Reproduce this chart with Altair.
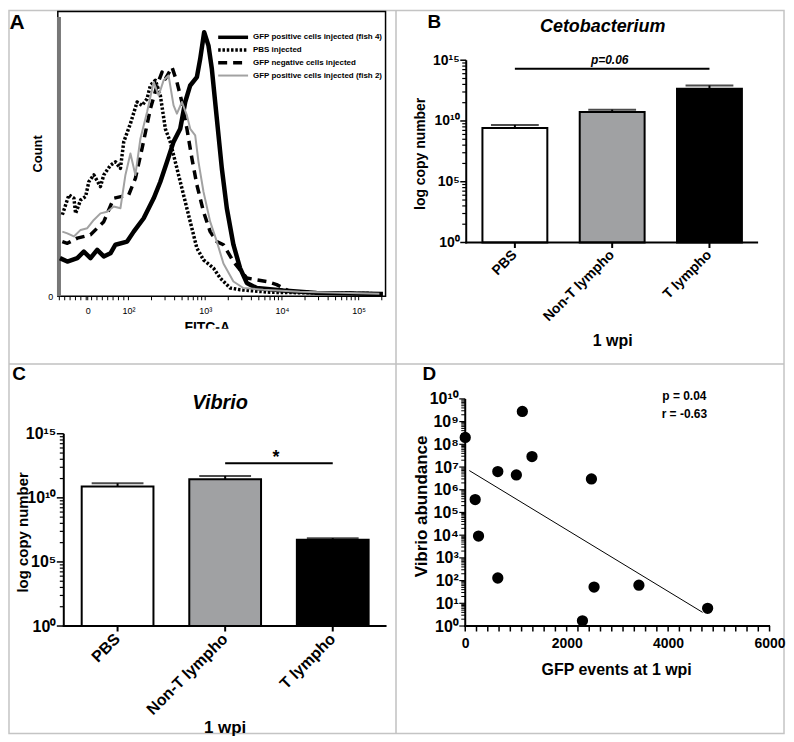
import json
import math
import pandas as pd
import altair as alt

OX, OY = 8, 8                  # page margin
W, H = 794 - 16, 742 - 16      # whole figure = one plot area

def px(x):
    return x - OX

def py(y):
    return y - OY

FONT = "Liberation Sans"

# ---------------- Panel A: FITC-A histograms ----------------
# x: position on the FITC-A display axis in decade units (2 = 10^2, 3 = 10^3 ...)
# y: count, % of the tallest peak
a_black_x = [1.108, 1.204, 1.334, 1.419, 1.506, 1.593, 1.679, 1.766, 1.831, 1.983, 2.069, 2.199, 2.329,
             2.416, 2.503, 2.588, 2.675, 2.740, 2.805, 2.892, 2.935, 2.987, 3.043, 3.087, 3.152, 3.217,
             3.282, 3.368, 3.455, 3.542, 3.671, 4.017, 4.451, 5.316]
a_black_y = [13.4, 12.2, 13.4, 15.7, 13.4, 16.3, 14.0, 15.1, 18.1, 19.2, 22.7, 27.4, 34.4, 40.2, 47.2,
             54.2, 58.8, 68.2, 74.0, 76.9, 83.3, 92.7, 88.0, 79.8, 62.3, 44.9, 30.9, 18.1, 9.9, 4.7,
             2.9, 2.0, 1.2, 0.8]
a_pbs_x = [1.139, 1.225, 1.290, 1.312, 1.377, 1.442, 1.484, 1.549, 1.636, 1.679, 1.766, 1.831, 1.896,
           1.939, 2.026, 2.113, 2.178, 2.243, 2.286, 2.351, 2.416, 2.481, 2.545, 2.632, 2.718, 2.805,
           2.892, 2.978, 3.108, 3.195, 3.325, 3.455, 3.844, 5.27]
a_pbs_y = [28.6, 35.6, 34.4, 29.1, 33.8, 35.0, 40.2, 42.6, 38.5, 42.6, 46.0, 47.2, 44.9, 54.2, 60.6,
           68.2, 67.0, 69.3, 74.0, 75.8, 70.5, 58.8, 54.2, 44.9, 35.6, 26.2, 16.9, 12.8, 9.9, 6.4,
           2.9, 2.3, 1.4, 0.9]
a_neg_x = [1.139, 1.204, 1.334, 1.506, 1.679, 1.809, 2.004, 2.091, 2.178, 2.286, 2.373, 2.438, 2.481,
           2.568, 2.632, 2.697, 2.762, 2.827, 2.892, 2.978, 3.065, 3.152, 3.238, 3.368, 3.542, 3.801,
           3.931, 4.104, 4.494, 5.27]
a_neg_y = [19.2, 18.6, 20.4, 21.6, 26.2, 34.4, 35.6, 41.4, 51.9, 65.8, 74.0, 78.7, 76.3, 80.4, 75.2,
           68.2, 58.8, 48.4, 39.1, 29.7, 22.7, 19.2, 18.1, 12.2, 6.4, 5.2, 4.1, 1.7, 1.2, 0.9]
a_grey_x = [1.139, 1.204, 1.290, 1.377, 1.464, 1.549, 1.636, 1.723, 1.809, 1.896, 1.961, 2.026, 2.091,
            2.156, 2.243, 2.329, 2.394, 2.458, 2.523, 2.588, 2.632, 2.697, 2.762, 2.805, 2.870, 2.913,
            2.978, 3.065, 3.152, 3.238, 3.368, 3.497, 3.757, 4.234, 5.27]
a_grey_y = [22.7, 22.1, 21.0, 23.3, 23.9, 26.8, 29.1, 29.7, 31.5, 30.9, 42.6, 50.1, 42.6, 55.3, 64.7,
            75.2, 70.5, 75.8, 77.5, 67.0, 64.1, 68.2, 63.5, 58.8, 56.5, 47.2, 36.7, 26.2, 19.2, 11.5,
            5.2, 2.9, 2.3, 1.6, 0.9]
a_series = ["GFP positive cells injected (fish 4)", "PBS injected",
            "GFP negative cells injected", "GFP positive cells injected (fish 2)"]
a_xdomain = [1.08, 5.35]
a_ydomain = [0, 100]
a_tick_labels = {1.47: "0", 2: "10²", 3: "10³", 4: "10⁴", 5: "10⁵"}

# ---------------- Panels B / C: bar charts ----------------
groups = ["PBS", "Non-T lympho", "T lympho"]
bar_fills = ["#ffffff", "#a0a1a3", "#000000"]
ceto_mean = [2.7e9, 5.5e10, 4.5e12]
ceto_sem = [2.0e9, 3.0e10, 3.8e12]
vib_mean = [7.6e10, 2.8e11, 5.5e6]
vib_sem = [6.2e10, 2.3e11, 1.7e6]

# ---------------- Panel D: scatter ----------------
d_gfp = [0, 196, 262, 642, 642, 1008, 1126, 1316, 2311, 2488, 2540, 3424, 4779]
d_vib = [2.0e8, 3.7e5, 9.1e3, 6.3e6, 1.3e2, 4.5e6, 2.8e9, 2.9e7, 1.7, 3.0e6, 52, 63, 6.0]
fit_gfp = [80, 4680]
fit_vib = [7.0e6, 4.0]

# ---------------- helpers ----------------
SUP = str.maketrans("0123456789", "⁰¹²³⁴⁵⁶⁷⁸⁹")
POW_ARR = json.dumps(["10" + str(e).translate(SUP) for e in range(16)], ensure_ascii=False)
EXP = "round(log(datum.value)/LN10)"
IS_DEC = f"abs(log(datum.value)/LN10 - {EXP}) < 1e-6"


def log_label_expr(step):
    return f"({IS_DEC} && {EXP} % {step} == 0) ? {POW_ARR}[{EXP}] : ''"


def txt(s, x, y, size, weight="bold", style="normal", angle=0, align="center",
        baseline="middle", color="black"):
    return alt.Chart(pd.DataFrame({"t": [s]})).mark_text(
        font=FONT, fontSize=size, fontWeight=weight, fontStyle=style, angle=angle,
        align=align, baseline=baseline, color=color
    ).encode(x=alt.value(px(x)), y=alt.value(py(y)), text="t:N")


def seg(x1, y1, x2, y2, color="black", width=1.0, dash=None):
    kw = dict(color=color, strokeWidth=width)
    if dash:
        kw["strokeDash"] = dash
    return alt.Chart(pd.DataFrame({"k": [0]})).mark_rule(**kw).encode(
        x=alt.value(px(x1)), x2=alt.value(px(x2)), y=alt.value(py(y1)), y2=alt.value(py(y2)))


def lin_pos(v, d0, d1, r0, r1):
    """same mapping as a linear axis (page pixels) - used for axis tick decorations"""
    return r0 + (v - d0) / (d1 - d0) * (r1 - r0)


def log_pos(v, d0, d1, r0, r1):
    """same mapping as a log axis (page pixels) - used for axis tick decorations"""
    return lin_pos(math.log10(v), math.log10(d0), math.log10(d1), r0, r1)


def left_ticks(positions, axis_x, length, width):
    return [seg(axis_x - length, p, axis_x, p, width=width) for p in positions]


def bottom_ticks(positions, axis_y, length, width):
    return [seg(p, axis_y, p, axis_y + length, width=width) for p in positions]


AX = dict(title=None, grid=False, labelColor="black", ticks=False, domain=False,
          labelFont=FONT, labelOverlap=False, labelFlush=False)
decor = []

# ================= Panel A =================
a_minor = [round(1.1 + 0.07 * i, 3) for i in range(13)]
a_minor += [round(d + math.log10(k), 4) for d in (2, 3, 4) for k in range(2, 10)]
a_minor += [5.301]
a_vals = sorted(a_minor + list(a_tick_labels.keys()))
a_lab = " : ".join(f"datum.value == {k} ? '{v}'" for k, v in a_tick_labels.items()) + " : ''"

a_xscale = alt.Scale(domain=a_xdomain, range=[px(57), px(386)], nice=False, zero=False)
a_yscale = alt.Scale(domain=a_ydomain, range=[py(295), py(9)], nice=False, zero=False)
a_xaxis = alt.Axis(orient="bottom", offset=py(295) - H, values=a_vals, labelExpr=a_lab,
                   labelFontSize=9, labelPadding=10, **AX)
a_yaxis = alt.Axis(orient="left", offset=-px(57), values=[0], labelExpr="'0'",
                   labelFontSize=9, labelPadding=5, **AX)
XA = alt.X("u:Q", scale=a_xscale, axis=a_xaxis)
YA = alt.Y("cnt:Q", scale=a_yscale, axis=a_yaxis)

a_styles = [
    (a_black_x, a_black_y, dict(color="black", strokeWidth=4.5)),
    (a_pbs_x, a_pbs_y, dict(color="black", strokeWidth=3.5, strokeDash=[2.5, 1.8])),
    (a_neg_x, a_neg_y, dict(color="black", strokeWidth=3.5, strokeDash=[9, 6])),
    (a_grey_x, a_grey_y, dict(color="#a2a2a2", strokeWidth=2)),
]
a_layers = []
frame = alt.Chart(pd.DataFrame({"u": [a_xdomain[0]], "u2": [a_xdomain[1]],
                                "cnt": [a_ydomain[0]], "cnt2": [a_ydomain[1]]})).mark_rect(
    fill=None, stroke="black", strokeWidth=1.5).encode(x=XA, x2="u2:Q", y=YA, y2="cnt2:Q")
spike = alt.Chart(pd.DataFrame({"u": [1.095], "cnt": [0], "cnt2": [98]})).mark_rule(
    color="#777777", strokeWidth=4).encode(x=XA, y=YA, y2="cnt2:Q")
a_layers += [frame, spike]
for idx in (2, 1, 0, 3):
    xs, ys, st = a_styles[idx]
    df = pd.DataFrame({"u": xs, "cnt": ys, "series": a_series[idx]})
    a_layers.append(alt.Chart(df).mark_line(strokeJoin="round", **st).encode(x=XA, y=YA))
panelA = alt.layer(*a_layers)
decor += bottom_ticks([lin_pos(v, *a_xdomain, 57, 386) for v in a_vals], 295.5, 3.5, 1)

# legend of A (drawn by hand)
leg = []
for i, (name, (_, _, st)) in enumerate(zip(a_series, a_styles)):
    yy = 35 + i * 12.8
    leg.append(seg(218, yy, 248, yy, color=st["color"], width=min(st["strokeWidth"], 3.5),
                   dash=st.get("strokeDash")))
    leg.append(txt(name, 253, yy, 8, align="left"))


# ================= Panels B / C =================
# GraphPad-style minor ticks of a log axis whose major step is 10^5
bc_major = [1.0, 1e5, 1e10, 1e15]
bc_minor = [float(j) ** 5 * 10.0 ** (5 * m) for m in range(3) for j in range(2, 10)]


def bar_panel(mean, sem, xr, yr, lab_size, cap, sig, major_len):
    """xr / yr in page pixels"""
    df = pd.DataFrame({"group": groups, "mean": mean,
                       "upper": [m + s for m, s in zip(mean, sem)],
                       "base": [1.0] * 3, "fill": bar_fills})
    xscale = alt.Scale(domain=groups, range=[px(xr[0]), px(xr[1])],
                       paddingInner=0.333, paddingOuter=0.1665)
    xaxis = alt.Axis(orient="bottom", offset=py(yr[0]) - H, labelAngle=315, labelAlign="right",
                     labelBaseline="middle", labelFontSize=lab_size, labelFontWeight="bold",
                     labelPadding=10, **AX)
    yscale = alt.Scale(type="log", domain=[1, 1e15], range=[py(yr[0]), py(yr[1])], nice=False)
    yaxis = alt.Axis(orient="left", offset=-px(xr[0]), values=bc_major,
                     labelExpr=log_label_expr(5), labelFontSize=lab_size,
                     labelFontWeight="bold", labelPadding=major_len + 1, **AX)
    X = alt.X("group:N", scale=xscale, axis=xaxis)
    Y = alt.Y("mean:Q", scale=yscale, axis=yaxis)
    base = alt.Chart(df)
    bars = base.mark_bar(stroke="black", strokeWidth=2).encode(
        x=X, y=Y, y2="base:Q", fill=alt.Fill("fill:N", scale=None))
    err = base.mark_rule(color="black", strokeWidth=2).encode(x=X, y=Y, y2="upper:Q")
    caps = base.mark_tick(color="black", size=cap, thickness=2).encode(
        x=X, y=alt.Y("upper:Q", scale=yscale, axis=yaxis))
    sdf = pd.DataFrame({"group": [sig[0]], "g2": [sig[1]], "mean": [sig[2]]})
    sline = alt.Chart(sdf).mark_rule(color="black", strokeWidth=2).encode(
        x=X, x2="g2:N", y=Y)
    # axis lines and ticks
    ax_x, ax_y = xr[0], yr[0]
    step = (xr[1] - xr[0]) / len(groups)
    decor.extend([seg(ax_x, yr[1], ax_x, ax_y + 1, width=2),
                  seg(ax_x - 1, ax_y, xr[1], ax_y, width=2)])
    decor.extend(left_ticks([log_pos(v, 1, 1e15, yr[0], yr[1]) for v in bc_major], ax_x, major_len, 1.5))
    decor.extend(left_ticks([log_pos(v, 1, 1e15, yr[0], yr[1]) for v in bc_minor], ax_x, 4, 1.2))
    decor.extend(bottom_ticks([xr[0] + step * (i + 0.5) for i in range(len(groups))], ax_y, 5.5, 2))
    return alt.layer(bars, err, caps, sline)


panelB = bar_panel(ceto_mean, ceto_sem, [467, 760], [241, 58], 14, 48,
                   ("PBS", "T lympho", 2.0e14), 6)
panelC = bar_panel(vib_mean, vib_sem, [63, 387], [626, 433], 16, 52,
                   ("Non-T lympho", "T lympho", 4.9e12), 7)

# ================= Panel D =================
d_xvals = [i * 2000 / 9 for i in range(28)]
d_ymajor = [10.0 ** d for d in range(11)]
d_yminor = [k * 10.0 ** d for d in range(10) for k in range(2, 10)]
d_xr, d_yr = [466, 771.5], [626, 398]
d_xscale = alt.Scale(domain=[0, 6000], range=[px(d_xr[0]), px(d_xr[1])], nice=False)
d_yscale = alt.Scale(type="log", domain=[1, 1e10], range=[py(d_yr[0]), py(d_yr[1])], nice=False)
d_xaxis = alt.Axis(orient="bottom", offset=py(626) - H, values=[0, 2000, 4000, 6000],
                   labelExpr="format(datum.value, 'd')", labelFontSize=14,
                   labelFontWeight="bold", labelPadding=11, **AX)
d_yaxis = alt.Axis(orient="left", offset=-px(466), values=d_ymajor,
                   labelExpr=log_label_expr(1), labelFontSize=16, labelFontWeight="bold",
                   labelPadding=7, **AX)
XD = alt.X("gfp:Q", scale=d_xscale, axis=d_xaxis)
YD = alt.Y("vib:Q", scale=d_yscale, axis=d_yaxis)
pts = alt.Chart(pd.DataFrame({"gfp": d_gfp, "vib": d_vib})).mark_circle(
    size=128, color="black", opacity=1).encode(x=XD, y=YD)
fit = alt.Chart(pd.DataFrame({"gfp": fit_gfp, "vib": fit_vib})).mark_line(
    color="black", strokeWidth=1).encode(x=XD, y=YD)
panelD = alt.layer(fit, pts)
decor.extend([seg(466, 398, 466, 627, width=2), seg(465, 626, 772, 626, width=2)])
decor.extend(left_ticks([log_pos(v, 1, 1e10, *d_yr) for v in d_ymajor], 466, 6, 1.2))
decor.extend(left_ticks([log_pos(v, 1, 1e10, *d_yr) for v in d_yminor], 466, 4, 1))
decor.extend(bottom_ticks([lin_pos(v, 0, 6000, *d_xr) for v in d_xvals], 626, 5.5, 1.5))

# ================= annotations =================
notes = [
    # grid dividers
    seg(396.5, 8, 396.5, 734, color="#c0c0c0", width=1.5),
    seg(8, 363, 786, 363, color="#c0c0c0", width=1.5),
    # panel letters
    txt("A", 16, 21, 21), txt("B", 435, 20, 19), txt("C", 18, 373, 19), txt("D", 430, 373, 19),
    # panel A
    txt("Count", 37, 152, 13, angle=270),
    txt("FITC-A", 207, 331, 14, baseline="alphabetic"),
    # panel B
    txt("Cetobacterium", 604, 25, 18, style="italic"),
    txt("log copy number", 422, 152, 14, angle=270),
    txt("1 wpi", 614, 340, 16),
    txt("p=0.06", 611, 58, 12, style="italic"),
    # panel C
    txt("Vibrio", 220, 402, 20, style="italic"),
    txt("log copy number", 22, 532, 15, angle=270),
    txt("1 wpi", 225, 728, 17),
    txt("*", 276, 457, 18),
    # panel D
    txt("Vibrio abundance", 423, 506, 17, angle=270),
    txt("GFP events at 1 wpi", 618, 670, 16),
    txt("p = 0.04", 686, 395, 12),
    txt("r = -0.63", 686, 413, 12),
]
cover = alt.Chart(pd.DataFrame({"k": [0]})).mark_rect(fill="white").encode(
    x=alt.value(px(150)), x2=alt.value(px(262)), y=alt.value(py(327.5)), y2=alt.value(py(361)))

chart = alt.layer(panelA, panelB, panelC, panelD, *decor, *leg, *notes,
                  cover).resolve_scale(
    x="independent", y="independent").resolve_axis(x="independent", y="independent").properties(
    width=W, height=H, padding=0
).configure_view(stroke="#c4c4c4", strokeWidth=1.5)

chart.save("out.html", embed_options={"renderer": "svg", "actions": False})
